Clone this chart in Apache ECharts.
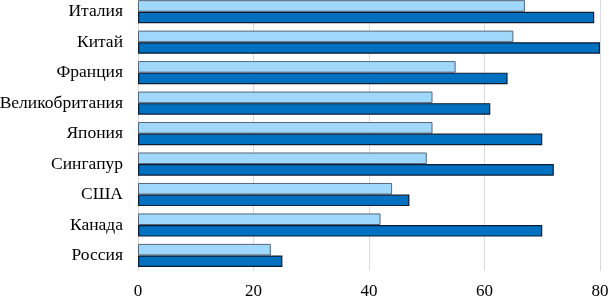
<!DOCTYPE html>
<html>
<head>
<meta charset="utf-8">
<script src="https://cdn.jsdelivr.net/npm/echarts@6/dist/echarts.min.js"></script>
<style>
  html, body { margin: 0; padding: 0; background: #fff; width: 609px; height: 298px; overflow: hidden; }
  /* plot area starts slightly above the page top, so the canvas sits 4px up */
  #chart { position: absolute; left: 0; top: -4px; width: 609px; height: 302px; }
</style>
</head>
<body>
<div id="chart"></div>
<script>
// === DATA ===
const countries = ['Италия', 'Китай', 'Франция', 'Великобритания', 'Япония', 'Сингапур', 'США', 'Канада', 'Россия'];
const lightValues = [67, 65, 55, 51, 51, 50, 44, 42, 23];
const darkValues = [79, 80, 64, 61, 70, 72, 47, 70, 25];
const xTicks = [0, 20, 40, 60, 80];

const FONT = '"Liberation Serif", "Times New Roman", serif';

const chart = echarts.init(document.getElementById('chart'));
chart.setOption({
    animation: false,
    backgroundColor: '#fff',
    // outerBoundsMode none: keep the grid where it is, labels may touch the edges
    grid: { left: 138, right: 9, top: 0.5, bottom: 27.3, containLabel: false, outerBoundsMode: 'none' },
    xAxis: {
        type: 'value',
        min: xTicks[0],
        max: xTicks[xTicks.length - 1],
        interval: 20,
        axisLine: { show: false },
        axisTick: { show: false },
        axisLabel: { color: '#000', fontFamily: FONT, fontSize: 17, margin: 12 },
        splitLine: { lineStyle: { color: '#d9d9d9', width: 1 } }
    },
    yAxis: {
        type: 'category',
        inverse: true,
        data: countries,
        axisLine: { show: true, lineStyle: { color: '#d9d9d9' } },
        axisTick: { show: false },
        axisLabel: { color: '#000', fontFamily: FONT, fontSize: 17.5, margin: 15 }
    },
    series: [
        {
            type: 'bar',
            data: lightValues,
            barGap: '0%',
            barCategoryGap: '24%',
            itemStyle: { color: '#9fd8fa', borderColor: '#56657a', borderWidth: 1 }
        },
        {
            type: 'bar',
            data: darkValues,
            itemStyle: { color: '#0070c0', borderColor: '#0b1c33', borderWidth: 1.2 }
        }
    ]
});
</script>
</body>
</html>
